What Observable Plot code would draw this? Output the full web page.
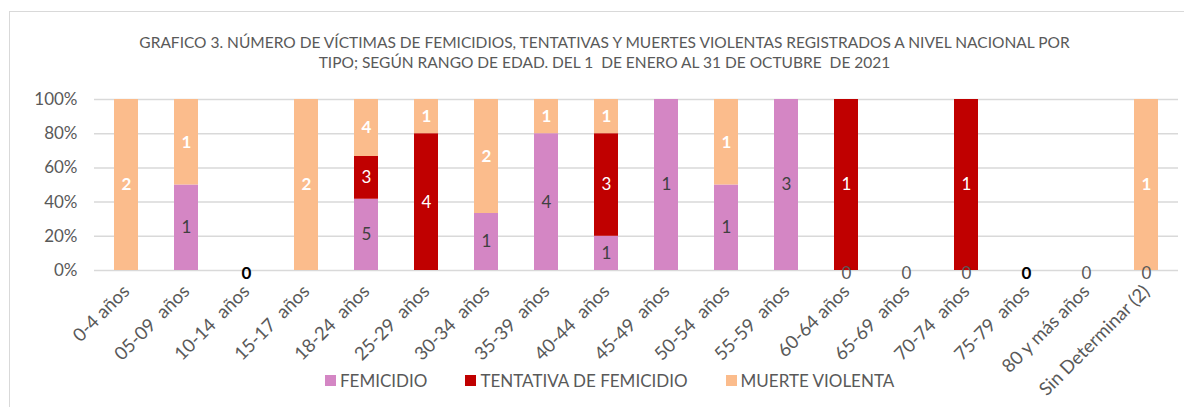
<!DOCTYPE html>
<html>
<head>
<meta charset="utf-8">
<script src="https://cdn.jsdelivr.net/npm/d3@7"></script>
<script src="https://cdn.jsdelivr.net/npm/@observablehq/plot@0.6"></script>
<style>
  body { margin: 0; background: #fff; }
  #wrap { position: relative; width: 1184px; height: 407px; overflow: hidden; font-family: Lato, sans-serif; }
  #frame { position: absolute; left: 9px; top: 11px; right: -5px; bottom: -5px; border-top: 1.5px solid #d9d9d9; border-left: 1.5px solid #d9d9d9; }
  #title { position: absolute; top: 32px; left: 0; width: 1209px; text-align: center; font-size: 15.5px; line-height: 20px; color: #595959; }
  #chart { position: absolute; left: 0; top: 0; }
  #chart svg text { white-space: pre; }
  #legend { position: absolute; top: 370px; left: 325px; display: flex; align-items: center; font-size: 17px; color: #595959; }
  #legend .item { display: flex; align-items: center; margin-right: 38px; }
  #legend .sw { width: 11px; height: 11px; margin-right: 4px; }
</style>
</head>
<body>
<div id="wrap">
  <div id="frame"></div>
  <div id="title"></div>
  <div id="chart"></div>
  <div id="legend"></div>
</div>
<script>
const titleLines = [
  "GRAFICO 3. NÚMERO DE VÍCTIMAS DE FEMICIDIOS, TENTATIVAS Y MUERTES VIOLENTAS REGISTRADOS A NIVEL NACIONAL POR",
  "TIPO; SEGÚN RANGO DE EDAD. DEL 1  DE ENERO AL 31 DE OCTUBRE  DE 2021"
];
const categories = ["0-4 años", "05-09  años", "10-14  años", "15-17  años", "18-24  años", "25-29  años",
  "30-34  años", "35-39  años", "40-44  años", "45-49  años", "50-54  años", "55-59  años",
  "60-64 años", "65-69  años", "70-74  años", "75-79  años", "80 y más años", "Sin Determinar (2)"];
const series = ["FEMICIDIO", "TENTATIVA DE FEMICIDIO", "MUERTE VIOLENTA"];
const colors = ["#D486C4", "#C00000", "#FBBC8C"];
const femicidio = [0, 1, 0, 0, 5, 0, 1, 4, 1, 1, 1, 3, 0, 0, 0, 0, 0, 0];
const tentativa = [0, 0, 0, 0, 3, 4, 0, 0, 3, 0, 0, 0, 1, 0, 1, 0, 0, 0];
const muerte    = [2, 1, 0, 2, 4, 1, 2, 1, 1, 0, 1, 0, 0, 0, 0, 0, 0, 1];
const yTicks = [0, 0.2, 0.4, 0.6, 0.8, 1];
const zeroGray = ["60-64 años", "65-69  años", "70-74  años", "80 y más años", "Sin Determinar (2)"];
const zeroBold = ["10-14  años", "75-79  años"];

document.getElementById("title").innerHTML = titleLines.map(t => `<div style="white-space:pre">${t}</div>`).join("");

const valuesBySeries = [femicidio, tentativa, muerte];
const rows = [];
categories.forEach((c, i) => series.forEach((s, j) => rows.push({cat: c, tipo: s, v: valuesBySeries[j][i]})));

const stackOpts = (extra) => Plot.stackY({offset: "normalize", order: series, x: "cat", y: "v", z: "tipo", ...extra});

const chart = Plot.plot({
  width: 1184,
  height: 407,
  marginTop: 99,
  marginBottom: 137,
  marginLeft: 94,
  marginRight: 6,
  style: {fontFamily: "Lato, sans-serif", background: "transparent", overflow: "visible"},
  x: {domain: categories, paddingInner: 0.6, paddingOuter: 0.3, label: null},
  y: {domain: [0, 1], label: null},
  color: {domain: series, range: colors},
  marks: [
    Plot.gridY(yTicks, {stroke: "#d9d9d9", strokeOpacity: 1, strokeWidth: 1.5}),
    Plot.barY(rows, stackOpts({fill: "tipo"})),
    Plot.axisY(yTicks, {tickFormat: d3.format(".0%"), tickSize: 0, tickPadding: 17, fontSize: 17, fill: "#595959", label: null}),
    Plot.axisX({tickRotate: -45, tickSize: 0, tickPadding: 6, fontSize: 18.5, fill: "#595959", label: null, dx: 0, dy: 12}),
    Plot.text(rows, stackOpts({text: d => d.tipo === "FEMICIDIO" && d.v > 0 ? d.v : "", fill: "#404040", fontSize: 17})),
    Plot.text(rows, stackOpts({text: d => d.tipo === "TENTATIVA DE FEMICIDIO" && d.v > 0 ? d.v : "", fill: "white", fontSize: 17})),
    Plot.text(rows, stackOpts({text: d => d.tipo === "MUERTE VIOLENTA" && d.v > 0 ? d.v : "", fill: "white", fontWeight: "bold", fontSize: 17})),
    Plot.text(zeroGray, {x: d => d, y: 0, text: () => "0", fill: "#595959", fontSize: 17, dy: 3}),
    Plot.text(zeroBold, {x: d => d, y: 0, text: () => "0", fill: "#000", fontWeight: "bold", fontSize: 17, dy: 3})
  ]
});
document.getElementById("chart").appendChild(chart);

const legend = document.getElementById("legend");
series.forEach((s, i) => {
  const it = document.createElement("div");
  it.className = "item";
  it.innerHTML = `<div class="sw" style="background:${colors[i]}"></div><span>${s}</span>`;
  legend.appendChild(it);
});
</script>
</body>
</html>
